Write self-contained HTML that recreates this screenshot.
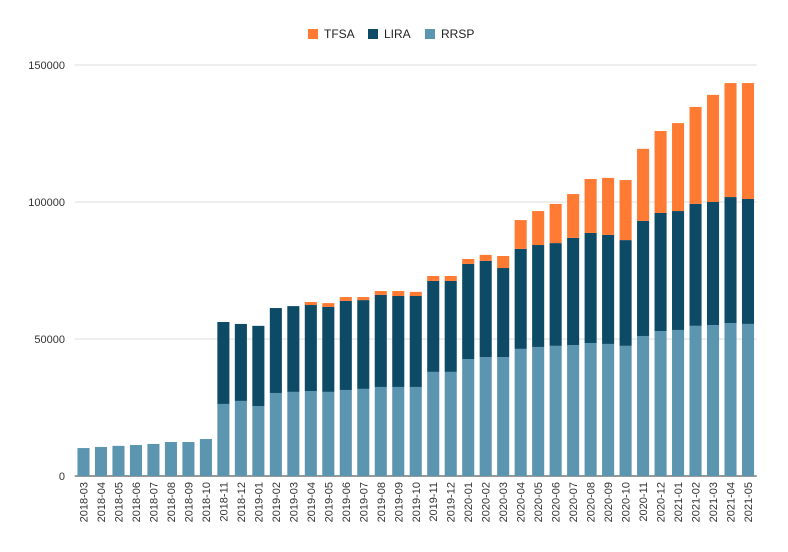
<!DOCTYPE html>
<html><head><meta charset="utf-8"><style>
html,body{margin:0;padding:0;background:#fff;}
svg{display:block;font-family:"Liberation Sans",Arial,sans-serif;}
</style></head><body>
<svg id="chart" width="788" height="552">
<g id="legend">
 <g><rect x="308" y="29" width="10" height="10" fill="#ff7a33"/><text x="324" y="38" font-size="12" fill="#222">TFSA</text></g>
 <g><rect x="368" y="29" width="10" height="10" fill="#0c4a66"/><text x="384" y="38" font-size="12" fill="#222">LIRA</text></g>
 <g><rect x="425" y="29" width="10" height="10" fill="#5b95b0"/><text x="441" y="38" font-size="12" fill="#222">RRSP</text></g>
</g>
<g id="grid"></g>
<g id="bars"></g>
<g id="xlabels"></g>
<g id="ylabels"></g>
</svg>
<script>
const categories = ["2018-03","2018-04","2018-05","2018-06","2018-07","2018-08","2018-09","2018-10","2018-11","2018-12","2019-01","2019-02","2019-03","2019-04","2019-05","2019-06","2019-07","2019-08","2019-09","2019-10","2019-11","2019-12","2020-01","2020-02","2020-03","2020-04","2020-05","2020-06","2020-07","2020-08","2020-09","2020-10","2020-11","2020-12","2021-01","2021-02","2021-03","2021-04","2021-05"];
const rrsp = [10200,10600,11000,11300,11700,12400,12400,13500,26300,27400,25500,30300,30700,31000,30700,31400,31800,32500,32500,32500,38000,38000,42700,43400,43400,46400,47100,47500,47800,48500,48200,47500,51100,52900,53300,54800,55100,55800,55500];
const lira = [0,0,0,0,0,0,0,0,29900,28100,29300,31000,31300,31400,31000,32500,32400,33600,33200,33200,33200,33200,34700,35100,32500,36500,37200,37500,39100,40200,39800,38600,42000,43100,43400,44500,44900,46000,45600];
const tfsa = [0,0,0,0,0,0,0,0,0,0,0,0,0,1100,1400,1400,1100,1400,1800,1500,1800,1800,1800,2200,4400,10500,12400,14300,16000,19700,20800,21900,26300,29900,32100,35400,39100,41600,42300];
const yTicks = [0,50000,100000,150000];
const yTickLabels = ["0","50000","100000","150000"];

const NS="http://www.w3.org/2000/svg";
const X0=74.75, PW=682, Y0=476, YMAX=150000, PH=411;
const band=PW/categories.length, bw=band*0.69;
const xc=i=>X0+band*(i+0.5);
const y=v=>Y0-v/YMAX*PH;
function mk(tag,attrs,parent){const e=document.createElementNS(NS,tag);for(const k in attrs)e.setAttribute(k,attrs[k]);parent.appendChild(e);return e;}
const grid=document.getElementById('grid'),bars=document.getElementById('bars'),xl=document.getElementById('xlabels'),yl=document.getElementById('ylabels');
yTicks.forEach((t,i)=>{
 const l=mk('line',{x1:X0,x2:X0+PW,y1:y(t),y2:y(t),stroke:t===0?'#333':'#ddd','stroke-width':1},grid);
 
 
 const tx=mk('text',{x:65,y:y(t)+4,'text-anchor':'end','font-size':11,fill:'#333'},yl);
 tx.textContent=yTickLabels[i];
 
 
});
const series=[[rrsp,'#5b95b0','rrsp'],[lira,'#0c4a66','lira'],[tfsa,'#ff7a33','tfsa']];
categories.forEach((c,i)=>{
 let base=0;
 series.forEach(([arr,col,nm])=>{
  const v=arr[i]; if(v<=0)return;
  const r=mk('rect',{x:xc(i)-bw/2,y:y(base+v),width:bw,height:y(base)-y(base+v),fill:col},bars);
  
  
  base+=v;
 });
 const t=mk('text',{x:0,y:0,'text-anchor':'end','font-size':11,fill:'#333',transform:`translate(${xc(i)+4},482) rotate(-90)`},xl);
 t.textContent=c;
 
 
});
</script>
</body></html>
